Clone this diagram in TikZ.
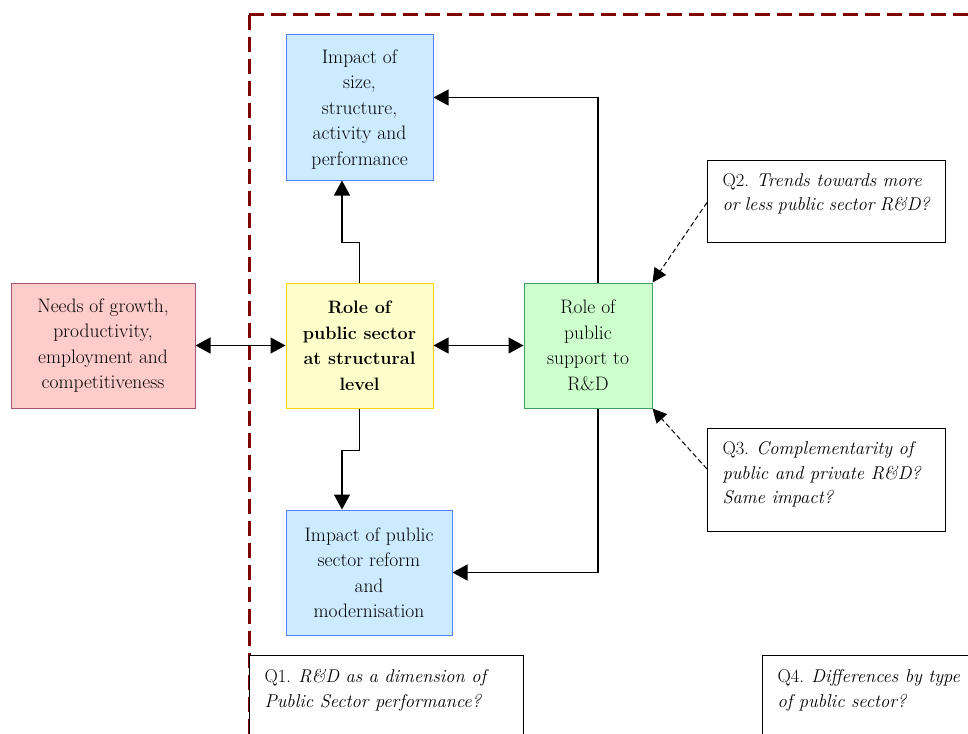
\documentclass[tikz,border=0pt]{standalone}
\usetikzlibrary{arrows.meta,calc}
\definecolor{bluefill}{RGB}{204,235,255}
\definecolor{blueline}{RGB}{80,130,255}
\definecolor{yelfill}{RGB}{255,255,204}
\definecolor{yelline}{RGB}{255,214,10}
\definecolor{grnfill}{RGB}{204,255,204}
\definecolor{grnline}{RGB}{60,160,100}
\definecolor{pnkfill}{RGB}{255,204,204}
\definecolor{pnkline}{RGB}{165,85,115}
\definecolor{bordred}{RGB}{128,0,0}
\tikzset{
  mainbox/.style={draw, line width=1pt, align=center, inner sep=2pt,
    font=\fontsize{19.5}{25.5}\selectfont},
  bluebox/.style={mainbox, fill=bluefill, draw=blueline},
  yelbox/.style={mainbox, fill=yelfill, draw=yelline, font=\fontsize{18}{25.5}\selectfont\bfseries},
  grnbox/.style={mainbox, fill=grnfill, draw=grnline},
  pnkbox/.style={mainbox, fill=pnkfill, draw=pnkline},
  qbox/.style={draw, fill=white, line width=1pt, anchor=north west,
    inner xsep=15pt, inner ysep=13pt, font=\fontsize{18.5}{24.5}\selectfont},
  arr/.style={-{Triangle[length=15pt,width=16pt]}, line width=1.3pt},
  dblarr/.style={{Triangle[length=15pt,width=16pt]}-{Triangle[length=15pt,width=16pt]}, line width=1.3pt},
  qarr/.style={-{Triangle[length=14pt,width=14pt]}, line width=1pt, dash pattern=on 5pt off 3pt},
  borderline/.style={draw=bordred, line width=3pt, dash pattern=on 15pt off 7pt}
}
\begin{document}
\begin{tikzpicture}[x=1pt,y=-1pt]
\useasboundingbox (0,0) rectangle (968,733);
\clip (0,0) rectangle (968,733);
% dashed frame
\coordinate (corner) at (249,15);
\coordinate (frameend1) at (249,745);
\coordinate (frameend2) at (980,15);
\draw[borderline] (corner) -- (frameend1);
\draw[borderline] (corner) -- (frameend2);
% main boxes
\node[bluebox, minimum width=147pt, minimum height=145pt, text depth=0pt] (top) at (359.5,107.5)
  {Impact of\\size,\\structure,\\activity and\\performance};
\node[pnkbox, minimum width=184pt, minimum height=125pt] (pink) at (103,345.5)
  {Needs of growth,\\productivity,\\employment and\\competitiveness};
\node[yelbox, minimum width=147pt, minimum height=125pt] (yel) at (359.5,345.5)
  {Role of\\public sector\\at structural\\level};
\node[grnbox, minimum width=128pt, minimum height=125pt] (grn) at (588,345.5)
  {Role of\\public\\support to\\R\&D};
\node[bluebox, minimum width=166pt, minimum height=125pt] (bot) at (369,572.5)
  {Impact of public\\sector reform\\and\\modernisation};
% question boxes
\node[qbox] (q2) at (707,160)
  {\parbox[t][56pt][t]{208pt}{Q2. \textit{Trends towards more}\\\textit{or less public sector R\&D?}}};
\node[qbox] (q3) at (707,428)
  {\parbox[t][77pt][t]{208pt}{Q3. \textit{Complementarity of}\\\textit{public and private R\&D?}\\\textit{Same impact?}}};
\node[qbox, inner ysep=14pt] (q1) at (249,655)
  {\parbox[t][90pt][t]{244pt}{Q1. \textit{R\&D as a dimension of}\\\textit{Public Sector performance?}}};
\node[qbox, inner ysep=14pt] (q4) at (762,655)
  {\parbox[t][90pt][t]{220pt}{Q4. \textit{Differences by type}\\\textit{of public sector?}}};
% connectors
\draw[dblarr] (pink.east) -- (yel.west);
\draw[dblarr] (yel.east) -- (grn.west);
\draw[arr] (yel.north) -- ++(0,-40) -| ([xshift=-17.5pt]top.south);
\draw[arr] (yel.south) -- ++(0,42) -| ([xshift=-27pt]bot.north);
\draw[arr] ([xshift=10pt]grn.north) |- ([yshift=10pt]top.east);
\draw[arr] ([xshift=10pt]grn.south) |- (bot.east);
\draw[qarr] ([yshift=-1pt]q2.west) -- (grn.north east);
\draw[qarr] ([yshift=11pt]q3.west) -- (grn.south east);
\end{tikzpicture}
\end{document}
